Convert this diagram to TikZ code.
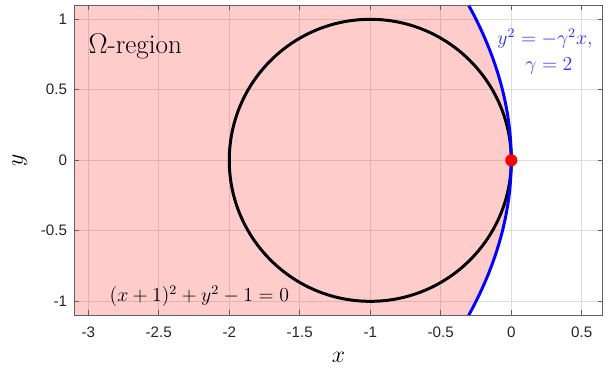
\documentclass[tikz,border=0pt]{standalone}
\usepackage{fontspec}
\newfontfamily\tickfont{Liberation Sans}
\definecolor{txtblue}{RGB}{45,45,255}
\begin{document}
\begin{tikzpicture}[x=3cm,y=3cm,
  gridline/.style={draw=black!13,line width=0.5pt},
  axisbox/.style={draw=black!62,line width=0.6pt},
  tickmark/.style={draw=black!62,line width=0.6pt},
  ticklabel/.style={font=\tickfont\fontsize{9.2}{10}\selectfont,text=black!85,inner sep=0pt},
  curve/.style={line width=1.8pt},
  bigmath/.style={font=\fontsize{15.4}{18}\selectfont,inner sep=0pt},
  regiontext/.style={font=\fontsize{16.4}{19}\selectfont,inner sep=0pt},
  eqtext/.style={font=\fontsize{12}{14}\selectfont,inner sep=0pt}]
\useasboundingbox (-3.626,-1.516) rectangle (0.693,1.137);
\coordinate (BL) at (-3.1,-1.1);
\coordinate (TR) at (0.65,1.1);
% grid
\foreach \x in {-3,-2.5,-2,-1.5,-1,-0.5,0,0.5}
  \draw[gridline] (\x,-1.1) -- (\x,1.1);
\foreach \y in {-1,-0.5,0,0.5,1}
  \draw[gridline] (-3.1,\y) -- (0.65,\y);
% region
\coordinate (PT) at (-0.3025,1.1);
\coordinate (PB) at (-0.3025,-1.1);
\fill[red,opacity=0.2] (BL) -- (-3.1,1.1) -- (PT) .. controls (0.10083,0.36667) and (0.10083,-0.36667) .. (PB) -- cycle;
% circle
\draw[black,curve] (-1,0) circle[radius=1];
% parabola
\draw[blue,curve] (PT) .. controls (0.10083,0.36667) and (0.10083,-0.36667) .. (PB);
% point
\fill[red] (0,0) circle[radius=0.043];
% box and ticks
\draw[axisbox] (BL) rectangle (TR);
\foreach \x in {-3,-2.5,-2,-1.5,-1,-0.5,0,0.5}{
  \draw[tickmark] (\x,-1.1) -- ++(0,0.035);
  \draw[tickmark] (\x,1.1) -- ++(0,-0.035);
  \node[ticklabel,anchor=base] (xt\x) at (\x,-1.26) {\x};
}
\foreach \y in {-1,-0.5,0,0.5,1}{
  \draw[tickmark] (-3.1,\y) -- ++(0.035,0);
  \draw[tickmark] (0.65,\y) -- ++(-0.035,0);
  \node[ticklabel,anchor=base east] (yt\y) at (-3.148,\y-0.035) {\y};
}
% axis labels
\node[bigmath,rotate=90] (ylab) at (-3.485,0) {$y$};
\node[bigmath] (xlab) at (-1.225,-1.40) {$x$};
% texts
\node[regiontext,anchor=base west] (omega) at (-3.0,0.76) {$\Omega$-region};
\node[eqtext,anchor=base,text=txtblue] (para1) at (0.239,0.818) {$y^2=-\gamma^2x,$};
\node[eqtext,anchor=base,text=txtblue] (para2) at (0.267,0.64) {$\gamma=2$};
\node[eqtext,anchor=base west] (circeq) at (-2.85,-1.0) {$(x+1)^2+y^2-1=0$};
\end{tikzpicture}
\end{document}
